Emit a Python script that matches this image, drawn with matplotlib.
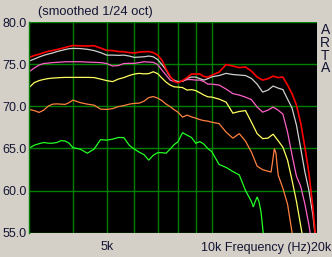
import matplotlib
matplotlib.use("Agg")
import matplotlib.pyplot as plt

# ---------------- data ----------------
freq = [3000, 3100, 3200, 3300, 3400, 3500, 3600, 3700, 3800, 3900, 4000, 4200, 4400, 4600, 4800,
        5000, 5200, 5400, 5600, 5800, 6000, 6200, 6400, 6600, 6800, 7000, 7200, 7400, 7600, 7800,
        8000, 8250, 8500, 8750, 9000, 9250, 9500, 9750, 10000, 10500, 11000, 11500, 12000, 12500,
        13000, 13500, 14000, 14500, 15000, 15500, 16000, 16500, 17000, 17500, 18000, 18500, 19000,
        19500, 20000]

red_db = [75.83, 76.05, 76.2, 76.4, 76.55, 76.65, 76.76, 76.88, 77.0, 77.14, 77.24, 77.2, 77.18, 77.22, 76.94,
          76.67, 76.64, 76.52, 76.5, 76.4, 76.35, 76.46, 76.5, 76.52, 76.4, 76.1, 75.5, 74.44, 73.6, 73.0,
          72.8, 73.07, 73.43, 73.85, 73.85, 73.85, 73.55, 73.49, 73.7, 74.08, 74.98, 74.8, 74.62, 74.68,
          74.2, 73.49, 73.13, 73.3, 73.6, 73.43, 73.49, 72.54, 71.5, 70.15, 68.0, 65.15, 62.06,
          58.0, 53.0]

gray_db = [75.4, 75.63, 75.87, 76.07, 76.23, 76.35, 76.52, 76.64, 76.76, 76.86, 76.9, 76.88, 76.79, 76.64, 76.4,
           76.1, 76.1, 76.07, 76.1, 75.99, 75.83, 75.87, 75.9, 75.99, 75.9, 75.57, 74.98, 74.32, 73.49, 73.13,
           72.95, 72.98, 73.33, 73.49, 73.49, 73.3, 73.13, 73.3, 73.52, 73.67, 73.93, 73.79, 73.73, 73.67,
           73.33, 72.65, 71.7, 71.94, 72.42, 72.18, 72.0, 70.87, 69.8, 67.77, 65.0, 62.2, 60.0,
           57.1, 53.0]

pink_db = [74.14, 74.56, 74.92, 75.1, 75.15, 75.21, 75.24, 75.27, 75.31, 75.31, 75.31, 75.31, 75.27, 75.24, 75.21,
           75.1, 74.8, 74.86, 75.1, 75.12, 75.12, 75.21, 75.31, 75.27, 75.24, 74.98, 74.32, 73.73, 73.13, 72.95,
           72.93, 73.01, 73.19, 73.19, 73.13, 73.13, 72.95, 72.65, 72.65, 72.54, 72.06, 71.52, 71.35, 71.1,
           70.81, 69.92, 69.32, 69.56, 69.92, 69.56, 69.08, 66.94, 64.2, 61.7, 60.5, 58.4, 55.9,
           53.0, 50.0]

yellow_db = [72.26, 72.83, 73.07, 73.21, 73.31, 73.37, 73.4, 73.43, 73.45, 73.45, 73.45, 73.45, 73.45, 73.43, 73.25,
             73.07, 72.95, 73.25, 73.43, 73.67, 73.85, 73.93, 73.87, 73.9, 74.12, 73.9, 73.37, 72.89, 72.54, 72.33,
             72.3, 72.24, 71.94, 72.0, 71.88, 71.62, 71.35, 71.14, 71.11, 70.87, 70.51, 69.2, 69.4, 69.5,
             68.13, 66.76, 66.17, 66.23, 66.7, 65.93, 65.15, 63.61, 61.2, 58.7, 55.8, 53.0, 50.0,
             48.0, 46.0]

orange_freq = [3000, 3100, 3200, 3300, 3400, 3500, 3600, 3700, 3800, 3900, 4000, 4200, 4400, 4600, 4800,
               5000, 5200, 5400, 5600, 5800, 6000, 6200, 6400, 6600, 6800, 7000, 7200, 7400, 7600, 7800,
               8000, 8250, 8500, 8750, 9000, 9250, 9500, 9750, 10000, 10500, 11000, 11500, 12000, 12500,
               13000, 13500, 14000, 14500, 14800, 15000, 15120, 15290, 15400, 15520, 16000, 16500, 17000, 17500]
orange_db = [69.64, 69.5, 69.29, 69.56, 70.04, 70.27, 70.3, 70.27, 70.24, 70.45, 70.75, 70.45, 70.27, 70.15, 69.68,
             69.64, 69.74, 69.98, 70.1, 70.27, 70.36, 70.39, 70.63, 71.05, 71.17, 70.99, 70.69, 70.27, 69.98, 69.62,
             69.32, 68.73, 68.96, 68.76, 68.61, 68.43, 68.31, 68.25, 68.13, 67.95, 66.94, 66.23, 66.76, 65.87,
             64.56, 62.89, 62.48, 62.3, 62.2, 63.9, 65.0, 64.4, 63.0, 61.8, 60.27, 58.37, 55.0, 52.0]

green_freq = [3000, 3100, 3200, 3300, 3400, 3500, 3600, 3700, 3800, 3900, 4000, 4200, 4400, 4600, 4800,
              5000, 5200, 5400, 5600, 5800, 6000, 6200, 6400, 6600, 6800, 7000, 7200, 7400, 7600, 7800,
              8000, 8250, 8500, 8750, 9000, 9250, 9500, 9750, 10000, 10500, 11000, 11500, 12000, 12500,
              13000, 13160, 13310, 13500, 13670, 13850, 14000, 14200]
green_db = [65.04, 65.39, 65.57, 65.71, 65.63, 65.63, 65.71, 65.93, 65.89, 65.63, 65.1, 64.92, 64.44, 64.92, 66.05,
            65.99, 66.11, 66.31, 66.29, 65.39, 64.92, 64.56, 64.26, 63.61, 64.2, 64.5, 64.5, 64.44, 64.92, 65.45,
            65.79, 66.88, 66.58, 66.31, 65.63, 65.81, 65.51, 64.98, 64.64, 63.1, 62.75, 62.26, 61.85, 60.0,
            58.7, 58.05, 58.64, 59.24, 58.64, 57.45, 55.6, 53.0]

y_ticks = [55, 60, 65, 70, 75, 80]
x_major = [5000]
x_major_labels = ["5k"]
x_minor = [4000, 6000, 7000, 8000, 9000, 10000]
title_text = "(smoothed 1/24 oct)"
xlabel_text = "10k Frequency (Hz)20k"
brand = "ARTA"

# ---------------- figure ----------------
W, H = 332, 257
BG = "#d4d0c8"
TXT = "#141432"
FONT = "Liberation Sans"
fig = plt.figure(figsize=(W / 100, H / 100), dpi=100, facecolor=BG)
ax = fig.add_axes([29.3 / W, 1 - 232.6 / H, 287.4 / W, 210.3 / H])
ax.set_facecolor("black")
ax.set_xscale("log")
ax.set_xlim(3000, 20000)
ax.set_ylim(55, 80)

grid_c = "#008000"
ax.set_xticks(x_major)
ax.set_xticklabels([])
ax.set_xticks(x_minor, minor=True)
ax.set_yticks(y_ticks)
ax.set_yticklabels(["%.1f" % v for v in y_ticks], fontsize=9, family=FONT, color=TXT)
ax.tick_params(axis="both", which="both", length=0, pad=2)
ax.xaxis.set_minor_formatter(plt.NullFormatter())
ax.grid(True, which="both", color=grid_c, lw=1.0)
for s in ["top", "right", "bottom"]:
    ax.spines[s].set_visible(False)
ax.spines["left"].set_color(grid_c)
ax.spines["left"].set_linewidth(1.0)

series = [
    (green_freq, green_db, "#22ff22", 0.9),
    (orange_freq, orange_db, "#ff8040", 0.9),
    (freq, yellow_db, "#ffff60", 0.9),
    (freq, pink_db, "#ff60c8", 0.9),
    (freq, gray_db, "#d0d0d0", 0.9),
    (freq, red_db, "#ff0000", 1.2),
]
for fx, fy, c, lw in series:
    ax.plot(fx, fy, color=c, lw=lw, solid_joinstyle="miter")

# x labels
for f, lab in zip(x_major, x_major_labels):
    ax.text(f, -0.07, lab, transform=ax.get_xaxis_transform(), ha="center", va="center",
            fontsize=9, family=FONT, color=TXT)
fig.text(331.5 / W, 1 - 247.5 / H, xlabel_text, ha="right", va="center",
         fontsize=9, family=FONT, color=TXT)
fig.text(38 / W, 1 - 12.5 / H, title_text, ha="left", va="center",
         fontsize=9.3, family=FONT, color=TXT)
for i, ch in enumerate(brand):
    fig.text(325.3 / W, 1 - (30.5 + 12.5 * i) / H, ch, ha="center", va="center",
             fontsize=10, family=FONT, color=TXT)

fig.savefig("out.png", dpi=100, facecolor=BG)
